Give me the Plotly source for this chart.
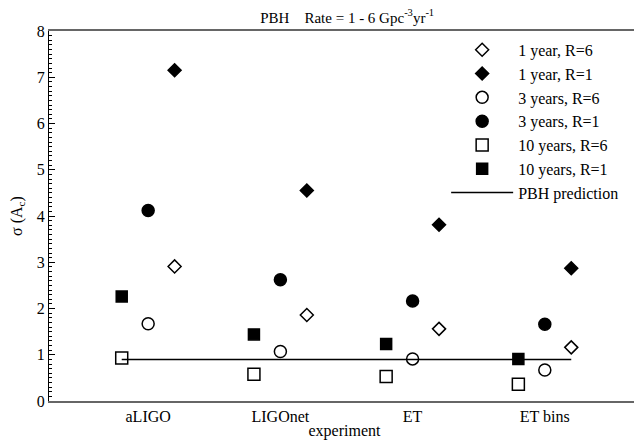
import plotly.graph_objects as go

experiments = ["aLIGO", "LIGOnet", "ET", "ET bins"]
exp_pos = [1, 2, 3, 4]

# sigma(A_c) values per experiment
y1_R6 = [2.91, 1.86, 1.56, 1.16]
y1_R1 = [7.15, 4.55, 3.81, 2.87]
y3_R6 = [1.67, 1.07, 0.91, 0.67]
y3_R1 = [4.12, 2.62, 2.16, 1.66]
y10_R6 = [0.93, 0.58, 0.53, 0.36]
y10_R1 = [2.26, 1.44, 1.23, 0.91]

pbh_x = [0.8, 4.2]
pbh_y = [0.9, 0.9]

offset_10yr = -0.2
offset_3yr = 0.0
offset_1yr = 0.2

FONT = "Times New Roman, Liberation Serif, DejaVu Serif, serif"

def shifted(off):
    return [p + off for p in exp_pos]

fig = go.Figure()
series = [
    ("1 year, R=6", shifted(offset_1yr), y1_R6, "diamond-open", 10),
    ("1 year, R=1", shifted(offset_1yr), y1_R1, "diamond", 10),
    ("3 years, R=6", shifted(offset_3yr), y3_R6, "circle-open", 12),
    ("3 years, R=1", shifted(offset_3yr), y3_R1, "circle", 12),
    ("10 years, R=6", shifted(offset_10yr), y10_R6, "square-open", 12),
    ("10 years, R=1", shifted(offset_10yr), y10_R1, "square", 11),
]
for name, xs, ys, sym, sz in series:
    fig.add_trace(go.Scatter(
        x=xs, y=ys, mode="markers", name=name,
        marker=dict(symbol=sym, size=sz, color="black",
                    line=dict(color="black", width=1.5)),
    ))

fig.add_trace(go.Scatter(
    x=pbh_x, y=pbh_y, mode="lines", name="PBH prediction",
    line=dict(color="black", width=1.5),
))

fig.update_layout(
    width=634, height=432,
    margin=dict(l=41, r=2, t=23, b=39),
    paper_bgcolor="white", plot_bgcolor="white",
    font=dict(family=FONT, color="black", size=16),
    title=dict(text="PBH    Rate = 1 - 6 Gpc<sup>-3</sup>yr<sup>-1</sup>",
               x=0.535, xanchor="center", y=0.978, yanchor="middle",
               font=dict(family=FONT, size=15, color="black")),
    showlegend=True,
    legend=dict(x=0.672, y=0.995, xanchor="left", yanchor="top",
                bgcolor="rgba(0,0,0,0)", font=dict(family=FONT, size=16),
                itemwidth=62, tracegroupgap=0),
)

fig.update_xaxes(
    range=[0.25, 4.72], automargin=False,
    tickmode="array", tickvals=exp_pos, ticktext=experiments,
    showgrid=False, zeroline=False, ticks="",
    showline=True, linecolor="#666666", linewidth=2, mirror=True,
    tickfont=dict(family=FONT, size=16),
    title=dict(text="experiment", font=dict(family=FONT, size=16), standoff=0),
)
fig.update_yaxes(
    range=[0, 8], dtick=1, automargin=False,
    showgrid=False, zeroline=False,
    ticks="inside", ticklen=6, tickcolor="black",
    showline=True, linecolor="black", linewidth=1, mirror="allticks",
    minor=dict(dtick=0.1, ticks="inside", ticklen=3, tickcolor="black", showgrid=False),
    tickfont=dict(family=FONT, size=16),
    title=dict(text="σ (A<sub>c</sub>)", font=dict(family=FONT, size=16), standoff=14),
)

fig.write_html("out.html")
